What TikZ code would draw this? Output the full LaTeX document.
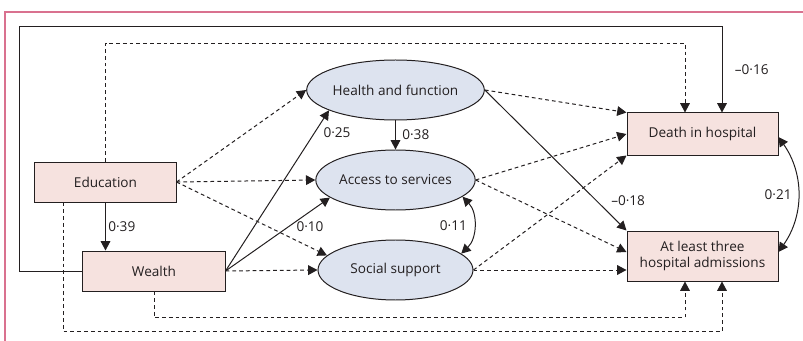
\documentclass[tikz,border=0pt]{standalone}
\usepackage{fontspec}
\setmainfont{Open Sans}
\usetikzlibrary{shapes.geometric,arrows.meta,calc}

\definecolor{frame}{HTML}{D9718F}
\definecolor{boxfill}{HTML}{F6E2DF}
\definecolor{ovalfill}{HTML}{DDE3EF}
\definecolor{ink}{HTML}{231F20}

\tikzset{
  obs/.style={draw=ink,fill=boxfill,line width=0.85pt,text=ink,align=center,inner sep=0pt},
  lat/.style={ellipse,draw=ink,fill=ovalfill,line width=0.85pt,text=ink,
    minimum width=4.65cm,minimum height=1.8cm,inner sep=0pt},
  path/.style={draw=ink,line width=0.85pt,-{Triangle[length=0.28cm,width=0.29cm]}},
  dpath/.style={path,dash pattern=on 3.2pt off 2.6pt},
  both/.style={draw=ink,line width=0.85pt,{Triangle[length=0.28cm,width=0.29cm]}-{Triangle[length=0.28cm,width=0.29cm]}},
  coef/.style={text=ink,inner sep=2pt}
}

\begin{document}
\begin{tikzpicture}[x=0.03cm,y=0.03cm,font=\fontsize{11.6}{14}\selectfont]
  \useasboundingbox (0,0) rectangle (803,-341);
  % page frame
  \draw[frame,line width=1.2pt] (5,-341) -- (5,-12) -- (803,-12);

  % observed variables
  \node[obs,minimum width=4.23cm,minimum height=1.2cm] (educ) at (105.5,-182) {Education};
  \node[obs,minimum width=4.26cm,minimum height=1.2cm] (wealth) at (154,-271) {Wealth};
  \node[obs,minimum width=4.53cm,minimum height=1.26cm] (death) at (702.5,-134) {Death in hospital};
  \node[obs,minimum width=4.53cm,minimum height=1.5cm] (admit) at (702.5,-256) {At least three\\hospital admissions};

  % latent variables
  \node[lat] (health) at (395.5,-90) {Health and function};
  \node[lat] (access) at (395.5,-180) {Access to services};
  \node[lat] (social) at (395.5,-270) {Social support};

  % significant paths
  \draw[path] (educ.south) -- (educ.south |- wealth.north) node[midway,right,coef] {0·39};
  \draw[path] (health.south) -- (access.north) node[midway,right=0.12cm,coef] {0·38};
  \draw[path] (wealth.east) -- (health.197);
  \draw[path] (wealth.east) -- (access.195);
  \draw[path] (health.east) -- (admit.north west) node[pos=0.79,right=0.35cm,coef] {–0·18};
  \draw[path] (wealth.west) -| (19,-27) -| node[pos=0.75,right=0.3cm,coef] {–0·16} ($(death.north)+(19.5,0)$);
  \node[coef] at (337,-133) {0·25};
  \node[coef] at (310,-227) {0·10};

  % non-significant paths
  \draw[dpath] (educ.east) -- (health.west);
  \draw[dpath] (educ.east) -- (access.west);
  \draw[dpath] (educ.east) -- (social.168);
  \draw[dpath] (wealth.east) -- (social.west);
  \draw[dpath] (health.east) -- (death.north west);
  \draw[dpath] (access.east) -- (death.west);
  \draw[dpath] (social.east) -- (death.south west);
  \draw[dpath] (access.east) -- (admit.177);
  \draw[dpath] (social.east) -- (social.east -| admit.west);
  \draw[dpath] (educ.north) |- (685,-43) -- ($(death.north)+(-17.5,0)$);
  \draw[dpath] ($(educ.south west)+(29,0)$) -- ++(0,-129) -| ($(admit.south)+(19.5,0)$);
  \draw[dpath] (wealth.south) -- ++(0,-26) -| ($(admit.south)+(-17.5,0)$);

  % correlations
  \draw[both] (access.-14) to[bend left=45] node[left=0.12cm,coef] {0·11} (social.14);
  \draw[both] ($(death.east)+(0,-3)$) to[bend left=35] node[pos=0.5,left=0.1cm,coef] {0·21} ($(admit.east)+(0,4)$);
\end{tikzpicture}
\end{document}
